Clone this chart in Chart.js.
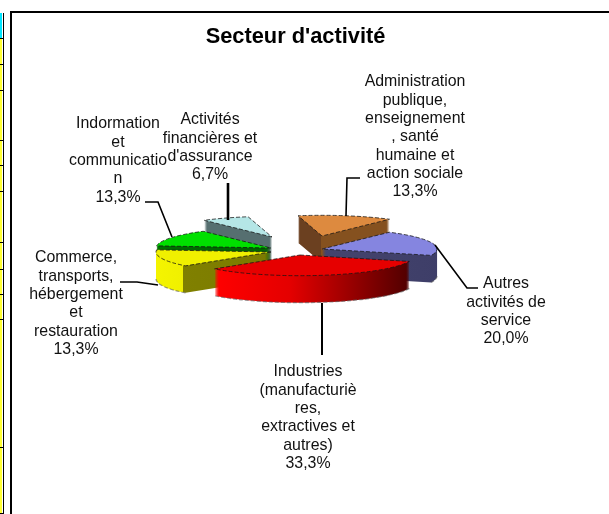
<!DOCTYPE html>
<html><head><meta charset="utf-8">
<style>
html,body{margin:0;padding:0;background:#fff;overflow:hidden}
#wrap{position:relative;width:609px;height:514px;overflow:hidden}
canvas{position:absolute;left:0;top:0}
.f{position:absolute;background:#000}
.s{position:absolute;left:0;width:2px}
</style>
<script src="https://cdn.jsdelivr.net/npm/chart.js@4"></script>
</head><body>
<div id="wrap">
<canvas id="c" width="609" height="514"></canvas>
<div class="f" style="left:10px;top:11px;width:2px;height:503px"></div>
<div class="f" style="left:10px;top:11px;width:599px;height:2px"></div>
<div class="f" style="left:3px;top:13px;width:1px;height:501px"></div>
</div>
<script>
// --- data ---
const categories = ["Administration publique, enseignement, santé humaine et action sociale","Autres activités de service","Industries (manufacturières, extractives et autres)","Commerce, transports, hébergement et restauration","Indormation et communication","Activités financières et d'assurance"];
const shares = [13.3, 20.0, 33.3, 13.3, 13.3, 6.7];
const topColors = ["#dd8a3f","#8585e0","#e60000","#f0f000","#00e000","#b5e6e6"];
const labelLines = [
 ["Administration","publique,","enseignement",", santé","humaine et","action sociale","13,3%"],
 ["Autres","activités de","service","20,0%"],
 ["Industries","(manufacturiè","res,","extractives et","autres)","33,3%"],
 ["Commerce,","transports,","hébergement","et","restauration","13,3%"],
 ["Indormation","et","communicatio","n","13,3%"],
 ["Activités","financières et","d'assurance","6,7%"]
];
const titleText = "Secteur d'activité";

// --- presentation ---
const CX=298, CY=245, R=115, SQUASH=0.18, DEPTH=27;
const nudge=[[24,-9],[24,4],[2,10],[-27,7],[-27,3],[-26,-8]];
const drawOrder=[5,0,4,3,1,2];
const wallStops=[
 [[298,"#6b4020"],[321,"#6b4020"],[321.5,"#85511f"],[400,"#85511f"]],
 [[320,"#44446e"],[440,"#3e3e68"]],
 [[215,"#ff0000"],[290,"#e40000"],[345,"#a00000"],[409,"#500000"]],
 [[157,"#f4f400"],[183,"#f0f000"],[183.5,"#808000"],[270,"#7a7a00"]],
 [[157,"#007000"],[270,"#006000"]],
 [[204,"#566f70"],[270,"#566f70"]]
];
const labelPos=[[415,82],[506,284],[308,372],[76,258],[118,124],[210,120]];
const leaders=[
 {w:1.6,p:[[360,178],[347,178],[346,216]]},
 {w:1.6,p:[[435,245],[467,288],[478,288]]},
 {w:2,p:[[322,303],[322,355]]},
 {w:1.6,p:[[120,282],[137,282],[158,285]]},
 {w:1.6,p:[[145,202],[158,202],[172,237]]},
 {w:2.6,p:[[228,183],[228,220]]}
];
const LH=18.35;
const FONT='15.9px "Liberation Sans", Arial, sans-serif';

const pie3d={
 id:'pie3d',
 beforeDatasetsDraw(chart){
  const ctx=chart.ctx, meta=chart.getDatasetMeta(0);
  const squash=(dy)=>{ctx.translate(0,CY+dy);ctx.scale(1,SQUASH);ctx.translate(0,-CY);};
  drawOrder.forEach(i=>{
    const el=meta.data[i], [dx,dy]=nudge[i], base=el.options;
    const g=ctx.createLinearGradient(wallStops[i][0][0]-dx,0,wallStops[i][wallStops[i].length-1][0]-dx,0);
    const a=wallStops[i][0][0], b=wallStops[i][wallStops[i].length-1][0];
    wallStops[i].forEach(s=>g.addColorStop((s[0]-a)/(b-a),s[1]));
    el.options=Object.assign({},base,{backgroundColor:g,borderWidth:0});
    for(let k=DEPTH;k>=1;k--){
      ctx.save();ctx.translate(dx,dy+k);squash(0);el.draw(ctx);ctx.restore();
    }
    el.options=Object.assign({},base,{backgroundColor:topColors[i],borderWidth:0});
    ctx.save();ctx.translate(dx,dy);squash(0);el.draw(ctx);ctx.restore();
    const {startAngle:s,endAngle:e,outerRadius:r,x,y}=el.getProps(['startAngle','endAngle','outerRadius','x','y']);
    ctx.save();ctx.translate(dx,dy);squash(0);
    ctx.beginPath();ctx.moveTo(x,y);ctx.arc(x,y,r,s,e);ctx.closePath();
    ctx.restore();
    ctx.save();ctx.lineWidth=1;ctx.strokeStyle='rgba(20,20,20,.75)';ctx.setLineDash([4,2]);ctx.stroke();ctx.restore();
    ctx.save();ctx.translate(dx,dy+DEPTH);squash(0);
    ctx.beginPath();ctx.arc(x,y,r,Math.max(s,0),Math.min(e,Math.PI));
    ctx.restore();
    ctx.save();ctx.lineWidth=1.2;ctx.strokeStyle='rgba(90,90,90,.6)';ctx.setLineDash([4,2]);
    if(e>0&&s<Math.PI)ctx.stroke();
    ctx.restore();
    el.options=base;
  });
  return false;
 },
 afterDraw(chart){
  const ctx=chart.ctx;
  ctx.save();ctx.strokeStyle='#000';ctx.lineJoin='miter';
  leaders.forEach(l=>{ctx.lineWidth=l.w;ctx.beginPath();l.p.forEach((q,n)=>n?ctx.lineTo(q[0],q[1]):ctx.moveTo(q[0],q[1]));ctx.stroke();});
  ctx.fillStyle='#111';ctx.font=FONT;ctx.textAlign='center';ctx.textBaseline='middle';
  labelLines.forEach((ls,i)=>ls.forEach((t,n)=>ctx.fillText(t,labelPos[i][0],labelPos[i][1]+n*LH)));
  ctx.fillStyle='#000';ctx.font='bold 21.8px "Liberation Sans", Arial, sans-serif';
  ctx.fillText(titleText,295.5,37);
  ctx.restore();
 }
};

new Chart(document.getElementById('c'),{
 type:'pie',
 data:{labels:categories,datasets:[{data:shares,backgroundColor:topColors,borderWidth:0}]},
 options:{
  responsive:false,animation:false,
  rotation:-12,
  layout:{padding:{left:CX-R,right:609-CX-R,top:CY-R,bottom:514-CY-R}},
  plugins:{legend:{display:false},tooltip:{enabled:false},title:{display:false,text:titleText}}
 },
 plugins:[pie3d]
});

// left-edge strip
const wrap=document.getElementById('wrap');
const cuts=[13,39,65,91,141,166,192,243,270,295,320,448,514];
cuts.slice(0,-1).forEach((y,i)=>{
  const d=document.createElement('div');d.className='s';
  d.style.top=y+'px';d.style.height=(cuts[i+1]-y-1)+'px';
  d.style.background=i===0?'#00e5ff':'#ffff33';
  wrap.appendChild(d);
  const t=document.createElement('div');t.className='f';
  t.style.left='0';t.style.width='3px';t.style.height='1px';t.style.top=(cuts[i+1]-1)+'px';
  wrap.appendChild(t);
});
</script>
</body></html>
